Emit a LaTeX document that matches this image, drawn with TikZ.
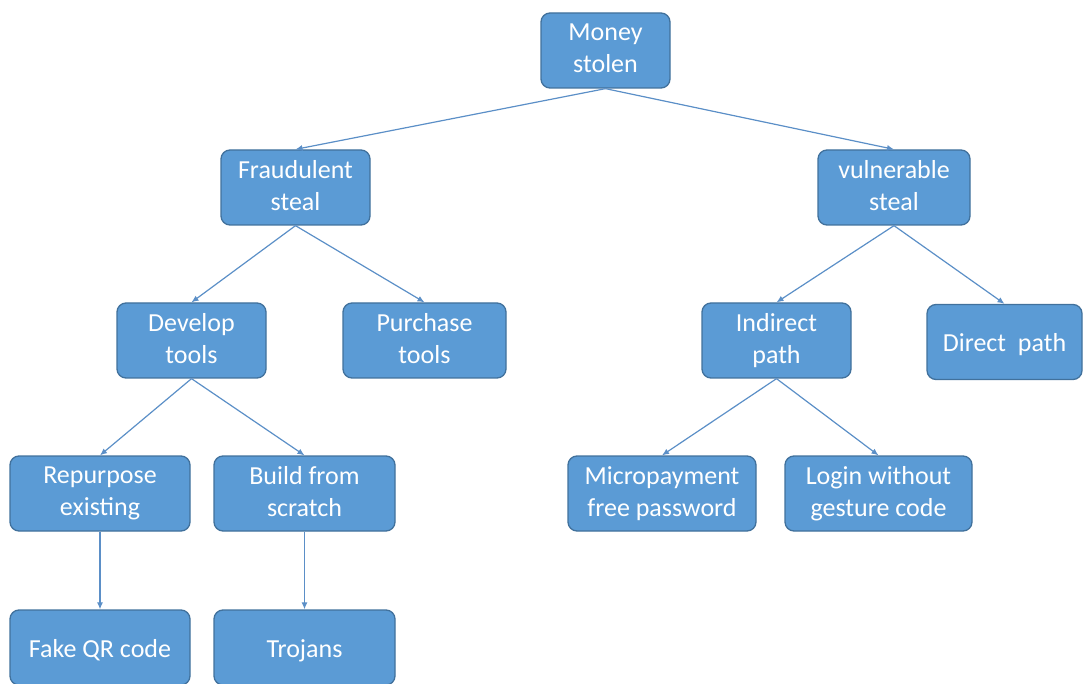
\documentclass[tikz,border=0pt]{standalone}
\usepackage{fontspec}
\setmainfont{Carlito}
\usetikzlibrary{arrows.meta}
\definecolor{boxfill}{HTML}{5B9BD5}
\definecolor{boxline}{HTML}{41719C}
\definecolor{linkcol}{HTML}{5B8FC7}
\begin{document}
\begin{tikzpicture}[x=1pt,y=-1pt]
\tikzset{ >={Latex[length=7pt,width=6pt]},
  box/.style={draw=boxline, fill=boxfill, line width=1.3pt, rounded corners=9pt,
    minimum height=75pt, align=center, text=white, inner sep=2pt,
    execute at begin node={\rule{0pt}{24pt}},
    execute at end node={\rule[-4pt]{0pt}{4pt}},
    font=\fontsize{26}{32}\selectfont},
  link/.style={->, draw=linkcol, line width=1.2pt},
}
\useasboundingbox (0,0) rectangle (1084,684);

\node [box, minimum width=129pt] (money) at (605.5,50.5) {Money\\stolen};

\node [box, minimum width=149pt] (fraud) at (295.5,187.5) {Fraudulent\\steal};
\node [box, minimum width=152pt] (vuln) at (894,187.5) {vulnerable\\steal};

\node [box, minimum width=149pt] (develop) at (191.5,340.5) {Develop\\tools};
\node [box, minimum width=163pt] (purchase) at (424.5,340.5) {Purchase\\tools};
\node [box, minimum width=149pt] (indirect) at (776.5,340.5) {Indirect\\path};
\node [box, minimum width=155pt] (direct) at (1004.5,342) {Direct~~path};

\node [box, minimum width=180pt] (repurpose) at (100,493.5) {Repurpose\\existing};
\node [box, minimum width=181pt] (build) at (304.5,493.5) {Build from\\scratch};
\node [box, minimum width=188pt] (micro) at (662,493.5) {Micropayment\\free password};
\node [box, minimum width=187pt] (login) at (878.5,493.5) {Login without\\gesture code};

\node [box, minimum width=180pt] (fakeqr) at (100,647.5) {Fake QR code};
\node [box, minimum width=181pt] (trojans) at (304.5,647.5) {Trojans};

\draw [link] (money.south) -- (fraud.north);
\draw [link] (money.south) -- (vuln.north);
\draw [link] (fraud.south) -- (develop.north);
\draw [link] (fraud.south) -- (purchase.north);
\draw [link] (vuln.south) -- (indirect.north);
\draw [link] (vuln.south) -- (direct.north);
\draw [link] (develop.south) -- (repurpose.north);
\draw [link] (develop.south) -- (build.north);
\draw [link] (indirect.south) -- (micro.north);
\draw [link] (indirect.south) -- (login.north);
\draw [link] (repurpose.south) -- (fakeqr.north);
\draw [link] (build.south) -- (trojans.north);

\end{tikzpicture}
\end{document}
